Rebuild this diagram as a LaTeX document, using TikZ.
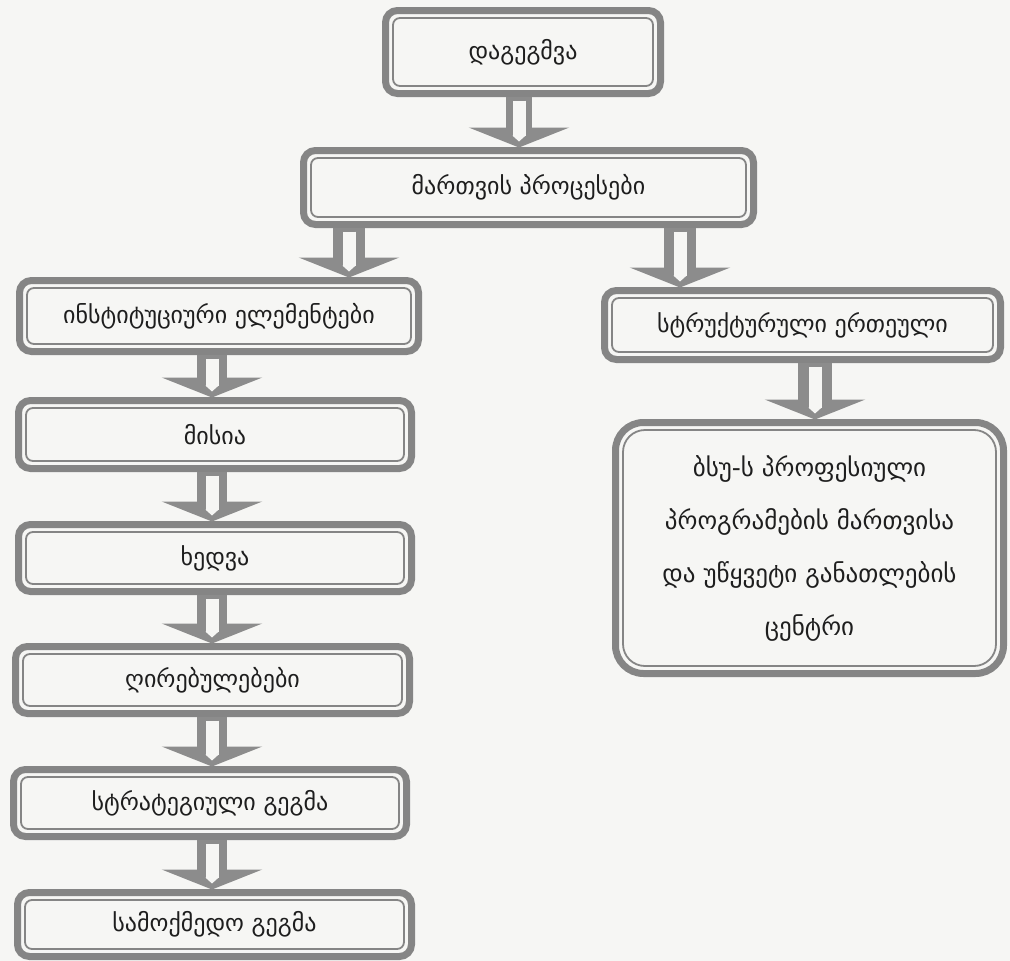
\documentclass[tikz,border=0pt]{standalone}
\usepackage{fontspec}
\setmainfont{DejaVu Sans}
\usetikzlibrary{arrows.meta,calc}
\definecolor{bordergray}{HTML}{858585}
\definecolor{arrowgray}{HTML}{8C8C8C}
\definecolor{paper}{HTML}{F6F6F4}
\definecolor{ink}{HTML}{1E1E1E}
\newcommand\blockarr[4]{%
  \draw[arrowbody, line width=#4] ($(#1.south -| #3)+(0,3)$) -- ($(#2.north -| #3)+(0,-3)$);
  \draw[arrowcore] ($(#1.south -| #3)+(0,7)$) -- ($(#2.north -| #3)+(0,-9)$);
}
\begin{document}
\begin{tikzpicture}[x=1pt,y=-1pt,
  box/.style={draw=bordergray, line width=7pt, rounded corners=12pt, fill=paper,
    inner sep=0pt, outer sep=0pt, text=ink, font=\fontsize{24}{29}\selectfont, align=center},
  innerline/.style={draw=bordergray, line width=1.8pt, rounded corners=7pt},
  arrowbody/.style={draw=arrowgray, -{Triangle[length=20pt,width=100pt]}},
  arrowcore/.style={draw=paper, line width=13pt, -{Triangle[length=6pt,width=13pt]}}
]
\fill[paper] (0,0) rectangle (1010,961);
\useasboundingbox (0,0) rectangle (1010,961);

\node[box, minimum width=275pt, minimum height=83pt] (b1) at (523,52) {დაგეგმვა};
\node[box, minimum width=450pt, minimum height=74pt] (b2) at (528.5,187.5) {მართვის პროცესები};
\node[box, minimum width=399pt, minimum height=71pt] (b3) at (219,316) {ინსტიტუციური ელემენტები};
\node[box, minimum width=393pt, minimum height=68pt] (b4) at (215,434.5) {მისია};
\node[box, minimum width=393pt, minimum height=67pt] (b5) at (215,558) {ხედვა};
\node[box, minimum width=394pt, minimum height=67pt] (b6) at (212.5,680) {ღირებულებები};
\node[box, minimum width=393pt, minimum height=67pt] (b7) at (210,803) {სტრატეგიული გეგმა};
\node[box, minimum width=394pt, minimum height=64pt] (b8) at (214.5,924.5) {სამოქმედო გეგმა};
\node[box, minimum width=396pt, minimum height=69pt] (b9) at (802.5,325) {სტრუქტურული ერთეული};
\node[box, rounded corners=28pt, minimum width=388pt, minimum height=251pt,
  font=\fontsize{25}{53}\selectfont] (b10) at (809.5,548)
  {ბსუ-ს პროფესიული\\პროგრამების მართვისა\\და უწყვეტი განათლების\\ცენტრი};

\foreach \n in {b1,b2,b3,b4,b5,b6,b7,b8,b9}
  \draw[innerline] ([shift={(7.5pt,-7.5pt)}]\n.north west) rectangle ([shift={(-7.5pt,7.5pt)}]\n.south east);
\draw[innerline, rounded corners=22pt] ([shift={(7.5pt,-7.5pt)}]b10.north west) rectangle ([shift={(-7.5pt,7.5pt)}]b10.south east);

\coordinate (ax1) at (519,0);
\coordinate (ax2L) at (349,0);
\coordinate (ax2R) at (680,0);
\coordinate (axL) at (212,0);
\coordinate (axR) at (815,0);

\blockarr{b1}{b2}{ax1}{26pt}
\blockarr{b2}{b3}{ax2L}{32pt}
\blockarr{b2}{b9}{ax2R}{32pt}
\blockarr{b3}{b4}{axL}{30pt}
\blockarr{b4}{b5}{axL}{30pt}
\blockarr{b5}{b6}{axL}{30pt}
\blockarr{b6}{b7}{axL}{30pt}
\blockarr{b7}{b8}{axL}{30pt}
\blockarr{b9}{b10}{axR}{34pt}
\end{tikzpicture}
\end{document}
